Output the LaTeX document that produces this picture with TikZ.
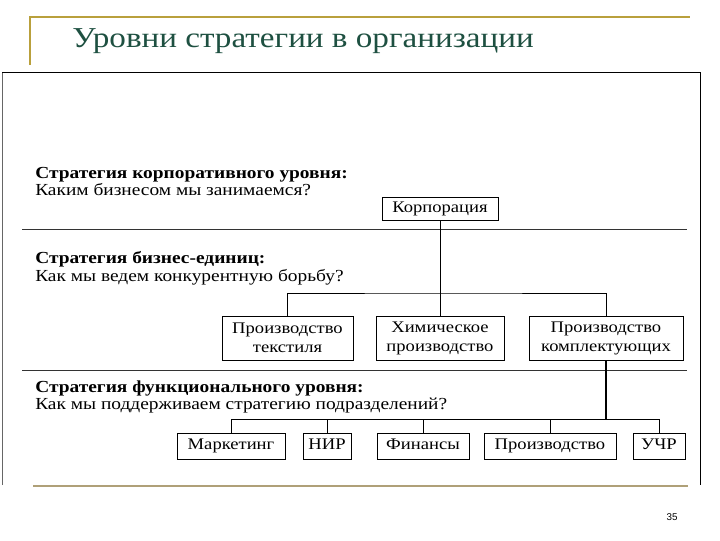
\documentclass[tikz,border=0pt]{standalone}
\usepackage{fontspec}
\setmainfont{Liberation Serif}
\newfontfamily\widefont[FakeStretch=1.15]{Liberation Serif}
\newfontfamily\pagefont{Liberation Sans}
\usetikzlibrary{positioning}
\definecolor{titlegreen}{RGB}{30,80,65}
\definecolor{slidegold}{RGB}{185,160,60}
\definecolor{footertan}{RGB}{175,160,120}

\begin{document}
\begin{tikzpicture}[
    x=0.025cm, y=-0.025cm,
    box/.style={draw, thin, align=center, inner sep=0pt, font=\widefont\fontsize{11.5}{13.5}\selectfont},
    onebox/.style={box, text height=0.75em, text depth=0.2em, minimum height=0.65cm},
    lbl/.style={anchor=base west, inner sep=0pt, font=\widefont\fontsize{12}{14}\selectfont},
    head/.style={lbl, font=\widefont\bfseries\fontsize{12}{14}\selectfont},
    link/.style={thin},
    sep/.style={draw=black!80, thin}
]
    \useasboundingbox (0,0) rectangle (720,540);
    % slide title
    \draw[slidegold, line width=1.2pt] (30,65) -- (30,17) -- (690,17);
    \node[anchor=base west, inner sep=0pt, text=titlegreen, font=\widefont\fontsize{20.5}{24}\selectfont] (title) at (72,47) {Уровни стратегии в организации};
    % picture frame
    \draw[black!60] (2,485) -- (2,72);
    \draw[thin] (2,72) -- (700,72) -- (700,485);
    \draw[footertan, line width=1.2pt] (33,486) -- (688,486);
    \node[anchor=center, inner sep=0pt, font=\pagefont\fontsize{7}{8}\selectfont] (page) at (672,517) {35};

    % levels
    \node[head] (corphead) at (35,178) {Стратегия корпоративного уровня:};
    \node[lbl] (corpask) at (35,195) {Каким бизнесом мы занимаемся?};
    \draw[sep] (22,229) -- (687,229);
    \node[head] (buhead) at (35,263) {Стратегия бизнес-единиц:};
    \node[lbl] (buask) at (35,281) {Как мы ведем конкурентную борьбу?};
    \draw[sep] (22,370) -- (687,370);
    \node[head] (funchead) at (35,392) {Стратегия функционального уровня:};
    \node[lbl] (funcask) at (35,409) {Как мы поддерживаем стратегию подразделений?};

    % tree
    \node[onebox, minimum width=2.9cm, minimum height=0.575cm] (corp) at (440,208.5) {Корпорация};
    \node[box, minimum width=3.275cm, minimum height=1.1cm] (textile) at (287.5,338) {Производство\\текстиля};
    \node[box, minimum width=3.2cm, minimum height=1.1cm] (chem) at (440,338) {Химическое\\производство};
    \node[box, minimum width=3.85cm, minimum height=1.1cm] (parts) at (606,338) {Производство\\комплектующих};

    \node[onebox, minimum width=2.7cm] (mkt) at (231,446) {Маркетинг};
    \node[onebox, minimum width=1.2cm] (rnd) at (327,446) {НИР};
    \node[onebox, minimum width=2.3cm] (fin) at (423,446) {Финансы};
    \node[onebox, minimum width=3.3cm] (prod) at (550,446) {Производство};
    \node[onebox, minimum width=1.3cm] (hr) at (659,446) {УЧР};

    \coordinate (bar2) at (440,293);
    \coordinate (bar3) at (606,419);
    \draw[link] (corp) -- (chem);
    \draw[link] (textile.north) |- (bar2) -| (parts.north);
    \draw[line width=1pt] (parts.south) -- (bar3);
    \draw[link] (mkt.north) |- (bar3) -| (hr.north);
    \draw[link] (rnd.north) -- (rnd.north |- bar3);
    \draw[link] (fin.north) -- (fin.north |- bar3);
    \draw[link] (prod.north) -- (prod.north |- bar3);
\end{tikzpicture}
\end{document}
